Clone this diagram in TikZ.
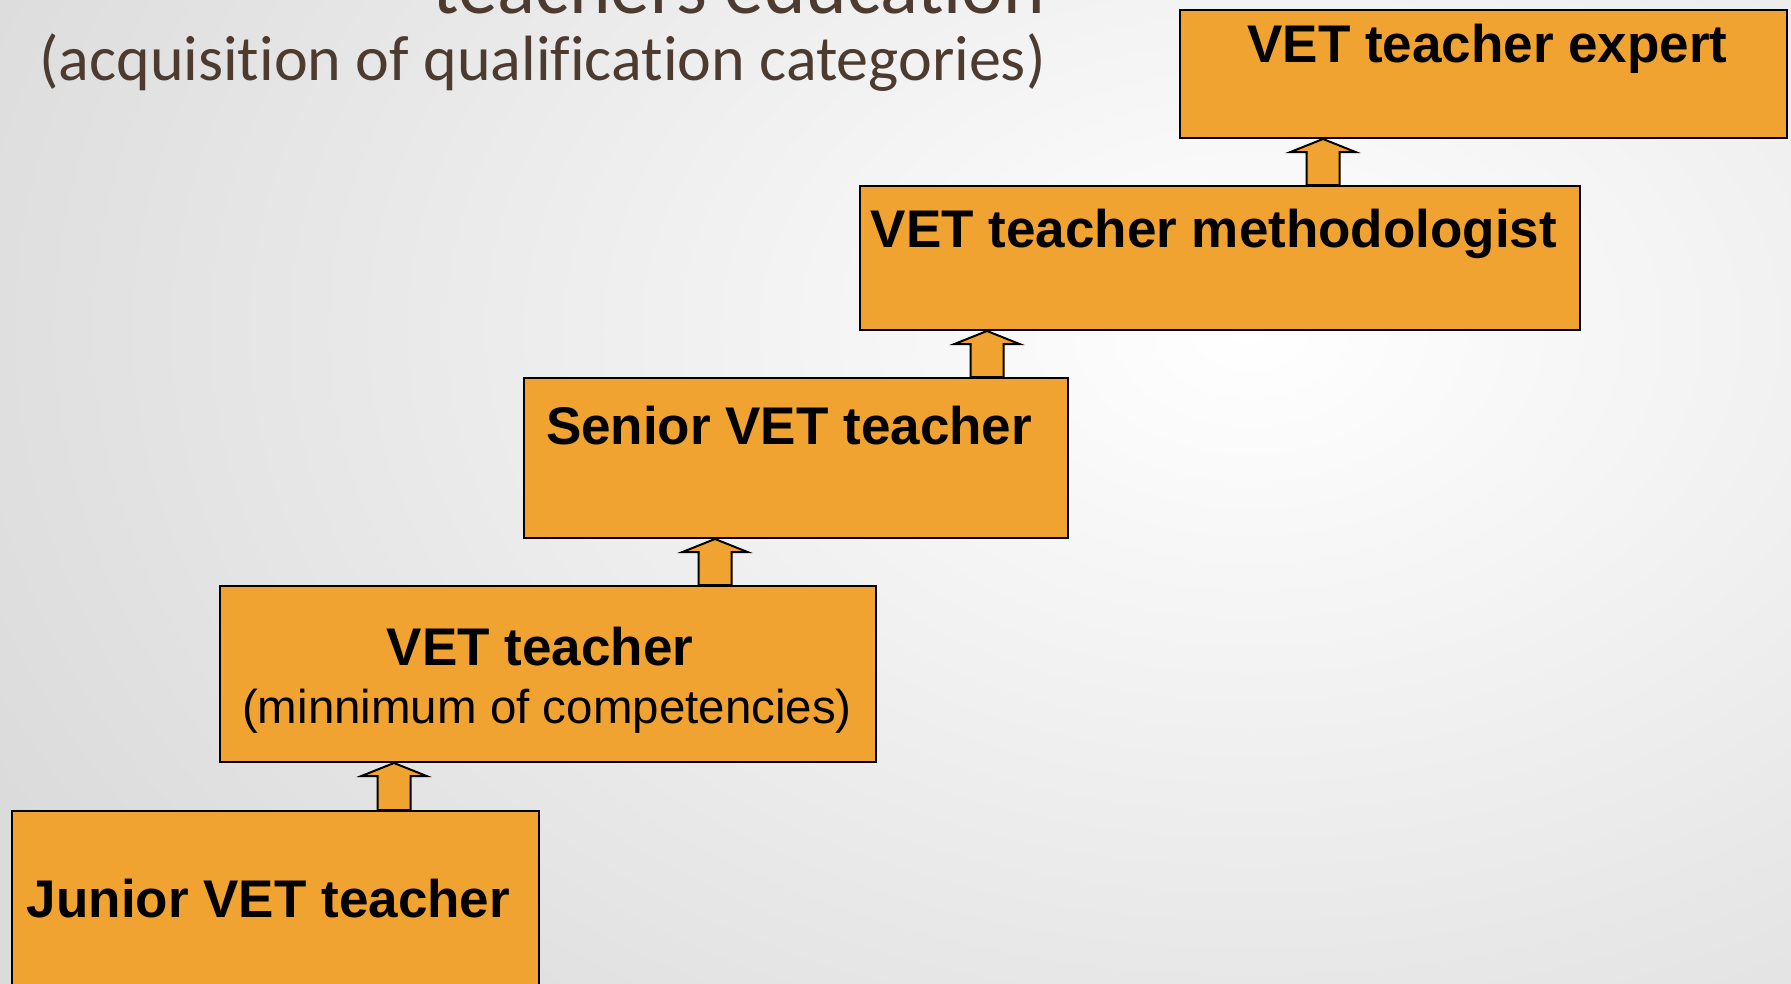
\documentclass[tikz,border=0pt]{standalone}
\usepackage{fontspec}
\setmainfont{Liberation Sans}
\newfontfamily\titlefont[Ligatures=NoCommon]{Carlito}
\usetikzlibrary{calc}

\definecolor{stageorange}{HTML}{F0A330}
\definecolor{titlebrown}{HTML}{4D3B2F}

\begin{document}
\begin{tikzpicture}[x=1pt,y=-1pt]
\tikzstyle{stage}=[draw, line width=2, fill=stageorange, inner sep=0,
  anchor=north west]
\tikzstyle{stagetext}=[anchor=base, inner sep=0,
  font=\fontsize{53}{60}\selectfont\bfseries]
\tikzstyle{stagenote}=[anchor=base, inner sep=0,
  font=\fontsize{47.5}{55}\selectfont]
\tikzstyle{stepline}=[draw, line width=2, fill=stageorange, line join=miter]
\useasboundingbox (0,0) rectangle (1791,983);
\clip (0,0) rectangle (1791,983);
\shade[inner color=white, outer color=black!14] (-150,-650) rectangle (2650,1310);

% heading, cut off at the top
\node[anchor=base east, inner sep=0, text=titlebrown,
  font=\titlefont\fontsize{79}{80}\selectfont] (title) at (1045,13)
  {teachers education};
\node[anchor=base east, inner sep=0, text=titlebrown,
  font=\titlefont\fontsize{64}{70}\selectfont] (subtitle) at (1046,80)
  {(acquisition of qualification categories)};

% the five stages
\node[stage, minimum width=527, minimum height=220] (junior) at (11,810) {};
\node[stage, minimum width=656, minimum height=176] (vet) at (219,585) {};
\node[stage, minimum width=544, minimum height=160] (senior) at (523,377) {};
\node[stage, minimum width=720, minimum height=144] (meth) at (859,185) {};
\node[stage, minimum width=607, minimum height=128] (expert) at (1179,9) {};

\node[stagetext] (juniortext) at ($(junior.north)+(-7,107)$) {Junior VET teacher};
\node[stagetext] (vettext) at ($(vet.north)+(-8,80)$) {VET teacher};
\node[stagenote] (vetnote) at ($(vet.north)+(-1,138)$) {(minnimum of competencies)};
\node[stagetext] (seniortext) at ($(senior.north)+(-7,67)$) {Senior VET teacher};
\node[stagetext] (methtext) at ($(meth.north)+(-6,62)$) {VET teacher methodologist};
\node[stagetext] (experttext) at ($(expert.north)+(4,53)$) {VET teacher expert};

% block arrows between the stages
\foreach \x/\lo/\hi in {394/junior/vet, 715/vet/senior, 987/senior/meth, 1323/meth/expert} {
  \coordinate (s) at (\x,0 |- \lo.north);
  \coordinate (t) at (\x,0 |- \hi.south);
  \path[stepline] ($(s)+(-16.5,0)$) -- ($(t)+(-16.5,13)$) -- ($(t)+(-32.5,13)$)
    -- (t) -- ($(t)+(32.5,13)$) -- ($(t)+(16.5,13)$) -- ($(s)+(16.5,0)$) -- cycle;
}
\end{tikzpicture}
\end{document}
